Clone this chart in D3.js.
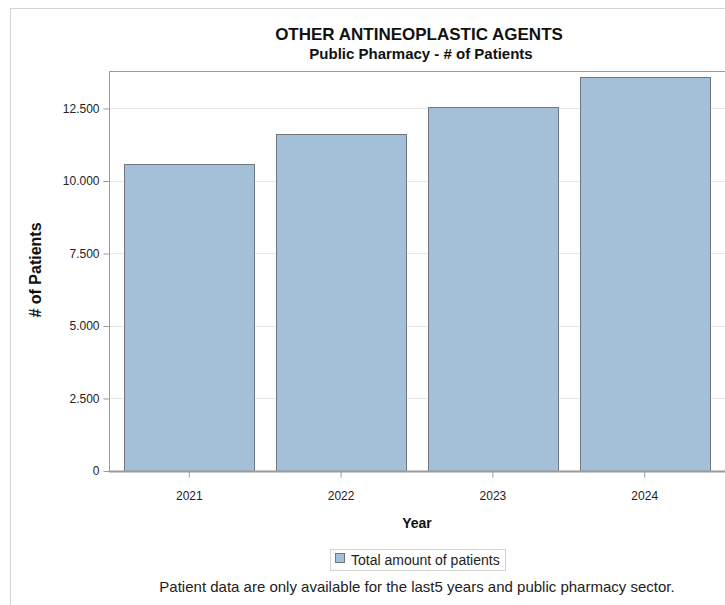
<!DOCTYPE html>
<html>
<head>
<meta charset="utf-8">
<script src="https://cdn.jsdelivr.net/npm/d3@7/dist/d3.min.js"></script>
<style>
  html, body { margin: 0; padding: 0; background: #fff; }
  svg { display: block; font-family: "Liberation Sans", Arial, sans-serif; }
</style>
</head>
<body>
<svg id="chart" width="725" height="605"></svg>
<script>
const years = ["2021", "2022", "2023", "2024"];
const patients = [10580, 11630, 12560, 13580];
const yTicks = [0, 2500, 5000, 7500, 10000, 12500];
const yTickLabels = ["0", "2.500", "5.000", "7.500", "10.000", "12.500"];
const seriesName = "Total amount of patients";
const titleText = "OTHER ANTINEOPLASTIC AGENTS";
const subtitleText = "Public Pharmacy - # of Patients";
const xTitle = "Year";
const yTitle = "# of Patients";
const footnote = "Patient data are only available for the last5 years and public pharmacy sector.";

const svg = d3.select("#chart");
const plot = { left: 109, top: 71, right: 725, bottom: 471 };

// outer frame
svg.append("rect")
  .attr("x", 10.5).attr("y", 8.5)
  .attr("width", 800).attr("height", 700)
  .attr("fill", "none").attr("stroke", "#d4d4d4").attr("stroke-width", 1);

const x = d3.scaleBand()
  .domain(years)
  .range([plot.left, plot.right])
  .paddingInner(0.142)
  .paddingOuter(0.1);

const y = d3.scaleLinear()
  .domain([0, 13793])
  .range([plot.bottom, plot.top]);

// gridlines
svg.append("g")
  .selectAll("line")
  .data(yTicks.filter(d => d > 0))
  .join("line")
  .attr("x1", plot.left).attr("x2", plot.right + 20)
  .attr("y1", d => Math.round(y(d)) + 0.5).attr("y2", d => Math.round(y(d)) + 0.5)
  .attr("stroke", "#e6e6e6").attr("stroke-width", 1);

// bars
svg.append("g")
  .selectAll("rect")
  .data(years.map((yr, i) => ({ yr, v: patients[i] })))
  .join("rect")
  .attr("x", d => Math.round(x(d.yr)) + 0.5)
  .attr("y", d => Math.round(y(d.v)) + 0.5)
  .attr("width", Math.round(x.bandwidth()))
  .attr("height", d => Math.round(y(0)) - Math.round(y(d.v)))
  .attr("fill", "#a4c0d9")
  .attr("stroke", "#6e7680")
  .attr("stroke-width", 1);

// plot frame: left + top
svg.append("path")
  .attr("d", `M${plot.left + 0.5},${plot.bottom}V${plot.top + 0.5}H${plot.right + 20}`)
  .attr("fill", "none").attr("stroke", "#9a9a9a").attr("stroke-width", 1);

// y axis
const yAxis = d3.axisLeft(y)
  .tickValues(yTicks)
  .tickFormat((d, i) => yTickLabels[i])
  .tickSize(6).tickPadding(4);
const gy = svg.append("g")
  .attr("transform", `translate(${plot.left + 0.5},0)`)
  .call(yAxis);
gy.select(".domain").remove();
gy.selectAll(".tick line").attr("stroke", "#9a9a9a");
gy.selectAll(".tick text")
  .attr("fill", "#222").attr("font-size", 12)
  .attr("font-family", "Liberation Sans, Arial, sans-serif");

// x axis
const xAxis = d3.axisBottom(x).tickSize(6).tickPadding(14);
const gx = svg.append("g")
  .attr("transform", `translate(0,${plot.bottom + 0.5})`)
  .call(xAxis);
gx.select(".domain").attr("d", `M${plot.left},0H${plot.right + 20}`)
  .attr("stroke", "#9a9a9a").attr("stroke-width", 2);
gx.selectAll(".tick line").attr("stroke", "#9a9a9a");
gx.selectAll(".tick text")
  .attr("fill", "#222").attr("font-size", 12)
  .attr("font-family", "Liberation Sans, Arial, sans-serif");

// titles
svg.append("text")
  .attr("x", 419).attr("y", 40)
  .attr("text-anchor", "middle")
  .attr("font-size", 17).attr("font-weight", "bold").attr("fill", "#111")
  .text(titleText);
svg.append("text")
  .attr("x", 421).attr("y", 59)
  .attr("text-anchor", "middle")
  .attr("font-size", 15).attr("font-weight", "bold").attr("fill", "#111")
  .text(subtitleText);

// axis titles
svg.append("text")
  .attr("x", 417).attr("y", 528)
  .attr("text-anchor", "middle")
  .attr("font-size", 14).attr("font-weight", "bold").attr("fill", "#111")
  .text(xTitle);
svg.append("text")
  .attr("transform", "translate(41,270) rotate(-90)")
  .attr("text-anchor", "middle")
  .attr("font-size", 16).attr("font-weight", "bold").attr("fill", "#111")
  .text(yTitle);

// legend
const lg = svg.append("g");
lg.append("rect")
  .attr("x", 330.5).attr("y", 549.5).attr("width", 175).attr("height", 21)
  .attr("fill", "#fff").attr("stroke", "#d4d4d4");
lg.append("rect")
  .attr("x", 335.5).attr("y", 553.5).attr("width", 9).attr("height", 9)
  .attr("fill", "#a4c0d9").attr("stroke", "#6e7680");
lg.append("text")
  .attr("x", 351).attr("y", 565)
  .attr("font-size", 14).attr("fill", "#222")
  .text(seriesName);

// footnote
svg.append("text")
  .attr("x", 417).attr("y", 592)
  .attr("text-anchor", "middle")
  .attr("font-size", 15).attr("fill", "#222")
  .text(footnote);
</script>
</body>
</html>
